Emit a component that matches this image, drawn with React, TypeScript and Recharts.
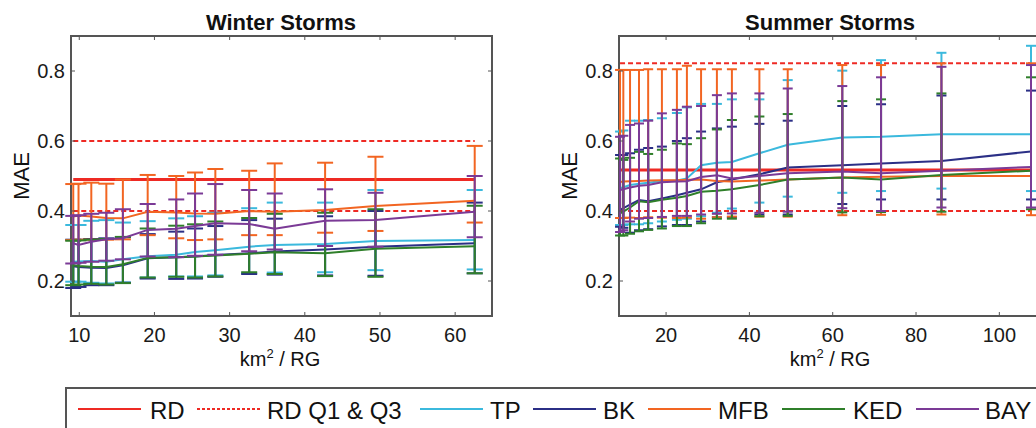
import React from 'react';
import { ComposedChart, Line, XAxis, YAxis, ErrorBar, ReferenceLine, ReferenceArea } from 'recharts';

const FONT = '"Liberation Sans", Arial, Helvetica, sans-serif';

// km2 per rain gauge
const winterX = [9.2, 9.9, 11.6, 13.6, 15.8, 19.1, 22.9, 25.4, 28.1, 32.6, 36.0, 42.7, 49.4, 62.6];
const summerX = [8.95, 9.74, 11.35, 13.5, 15.7, 19.0, 22.6, 25.0, 28.4, 32.2, 35.8, 42.4, 49.2, 62.3, 71.6, 86.1, 107.6];

// radar only (constant)
const winterRD = 0.49;
const winterRDQ1 = 0.4;
const winterRDQ3 = 0.6;
const summerRD = 0.517;
const summerRDQ1 = 0.4;
const summerRDQ3 = 0.822;

// winter storms: median, Q1, Q3
const winterTP = [0.255, 0.256, 0.257, 0.255, 0.262, 0.271, 0.275, 0.283, 0.288, 0.298, 0.303, 0.306, 0.314, 0.317];
const winterTPLow = [0.198, 0.198, 0.195, 0.193, 0.196, 0.21, 0.213, 0.213, 0.216, 0.222, 0.224, 0.225, 0.231, 0.233];
const winterTPHigh = [0.36, 0.36, 0.372, 0.374, 0.367, 0.371, 0.379, 0.385, 0.395, 0.408, 0.424, 0.424, 0.46, 0.46];

const winterBK = [0.242, 0.24, 0.238, 0.237, 0.245, 0.265, 0.268, 0.27, 0.274, 0.279, 0.284, 0.29, 0.298, 0.308];
const winterBKLow = [0.18, 0.183, 0.188, 0.188, 0.195, 0.207, 0.206, 0.207, 0.212, 0.22, 0.218, 0.216, 0.215, 0.222];
const winterBKHigh = [0.318, 0.318, 0.32, 0.322, 0.325, 0.334, 0.341, 0.35, 0.357, 0.374, 0.378, 0.385, 0.4, 0.424];

const winterMFB = [0.384, 0.387, 0.384, 0.38, 0.379, 0.398, 0.396, 0.393, 0.392, 0.4, 0.398, 0.403, 0.414, 0.429];
const winterMFBLow = [0.317, 0.318, 0.318, 0.318, 0.319, 0.331, 0.322, 0.317, 0.319, 0.331, 0.331, 0.338, 0.343, 0.367];
const winterMFBHigh = [0.477, 0.478, 0.481, 0.478, 0.49, 0.503, 0.5, 0.51, 0.52, 0.515, 0.536, 0.538, 0.555, 0.586];

const winterKED = [0.245, 0.243, 0.241, 0.24, 0.248, 0.266, 0.268, 0.27, 0.273, 0.278, 0.282, 0.279, 0.292, 0.299];
const winterKEDLow = [0.188, 0.19, 0.192, 0.19, 0.194, 0.21, 0.212, 0.21, 0.213, 0.225, 0.22, 0.214, 0.212, 0.222];
const winterKEDHigh = [0.315, 0.316, 0.318, 0.32, 0.326, 0.35, 0.358, 0.362, 0.37, 0.38, 0.392, 0.395, 0.405, 0.415];

const winterBAY = [0.308, 0.303, 0.312, 0.319, 0.322, 0.346, 0.349, 0.357, 0.365, 0.363, 0.349, 0.372, 0.374, 0.398];
const winterBAYLow = [0.25, 0.252, 0.255, 0.258, 0.262, 0.27, 0.268, 0.272, 0.275, 0.285, 0.29, 0.3, 0.298, 0.325];
const winterBAYHigh = [0.386, 0.388, 0.392, 0.395, 0.405, 0.42, 0.433, 0.45, 0.477, 0.46, 0.45, 0.462, 0.452, 0.5];

// summer storms: median, Q1, Q3
const summerTP = [0.465, 0.468, 0.474, 0.478, 0.481, 0.486, 0.487, 0.493, 0.531, 0.538, 0.54, 0.565, 0.589, 0.61, 0.612, 0.619, 0.619];
const summerTPLow = [0.36, 0.36, 0.362, 0.362, 0.365, 0.37, 0.375, 0.378, 0.385, 0.395, 0.407, 0.424, 0.441, 0.452, 0.457, 0.464, 0.457];
const summerTPHigh = [0.627, 0.63, 0.658, 0.658, 0.66, 0.665, 0.68, 0.696, 0.706, 0.706, 0.719, 0.719, 0.774, 0.801, 0.831, 0.852, 0.872];

const summerBK = [0.403, 0.408, 0.418, 0.431, 0.428, 0.436, 0.445, 0.452, 0.462, 0.482, 0.49, 0.505, 0.524, 0.531, 0.536, 0.543, 0.57];
const summerBKLow = [0.355, 0.352, 0.338, 0.345, 0.348, 0.356, 0.36, 0.36, 0.37, 0.382, 0.382, 0.39, 0.39, 0.42, 0.433, 0.433, 0.433];
const summerBKHigh = [0.56, 0.56, 0.565, 0.575, 0.58, 0.584, 0.6, 0.608, 0.627, 0.636, 0.641, 0.649, 0.658, 0.7, 0.705, 0.73, 0.744];

const summerMFB = [0.483, 0.484, 0.485, 0.486, 0.487, 0.488, 0.488, 0.489, 0.49, 0.486, 0.484, 0.487, 0.49, 0.496, 0.498, 0.5, 0.5];
const summerMFBLow = [0.38, 0.38, 0.381, 0.38, 0.382, 0.381, 0.38, 0.381, 0.378, 0.382, 0.384, 0.384, 0.384, 0.388, 0.389, 0.39, 0.388];
const summerMFBHigh = [0.803, 0.803, 0.803, 0.803, 0.805, 0.805, 0.805, 0.815, 0.805, 0.805, 0.805, 0.805, 0.805, 0.817, 0.817, 0.822, 0.822];

const summerKED = [0.393, 0.398, 0.41, 0.428, 0.425, 0.432, 0.438, 0.443, 0.455, 0.458, 0.462, 0.474, 0.49, 0.496, 0.49, 0.503, 0.515];
const summerKEDLow = [0.33, 0.33, 0.335, 0.342, 0.346, 0.35, 0.357, 0.357, 0.365, 0.378, 0.378, 0.385, 0.386, 0.396, 0.397, 0.398, 0.405];
const summerKEDHigh = [0.55, 0.546, 0.552, 0.569, 0.563, 0.575, 0.593, 0.591, 0.608, 0.633, 0.66, 0.67, 0.677, 0.714, 0.719, 0.736, 0.782];

const summerBAY = [0.46, 0.462, 0.467, 0.472, 0.474, 0.482, 0.484, 0.485, 0.497, 0.502, 0.493, 0.5, 0.508, 0.513, 0.508, 0.515, 0.526];
const summerBAYLow = [0.34, 0.345, 0.37, 0.378, 0.38, 0.383, 0.386, 0.386, 0.39, 0.392, 0.393, 0.395, 0.398, 0.408, 0.4, 0.41, 0.41];
const summerBAYHigh = [0.612, 0.615, 0.646, 0.65, 0.658, 0.679, 0.689, 0.698, 0.7, 0.731, 0.736, 0.736, 0.75, 0.757, 0.782, 0.812, 0.817];

const yTicks = [0.2, 0.4, 0.6, 0.8];
const winterTicks = [10, 20, 30, 40, 50, 60];
const summerTicks = [20, 40, 60, 80, 100];

const METHODS = [
  { key: 'tp', name: 'TP', color: '#3bb9dd' },
  { key: 'bk', name: 'BK', color: '#2b2f86' },
  { key: 'mfb', name: 'MFB', color: '#f26522' },
  { key: 'ked', name: 'KED', color: '#2f7f2a' },
  { key: 'bay', name: 'BAY', color: '#7b3a96' },
];
const RED = '#ee2a24';
const AXIS = '#555';

type Series = { [k: string]: [number[], number[], number[]] };

function buildRows(xs: number[], rd: number, q1: number, q3: number, series: Series) {
  return xs.map((x, i) => {
    const row: any = { x, rd, rdQ1: q1, rdQ3: q3 };
    Object.keys(series).forEach((k) => {
      const [med, lo, hi] = series[k];
      row[k] = med[i];
      row[k + 'Err'] = [med[i] - lo[i], hi[i] - med[i]];
    });
    return row;
  });
}

const winterRows = buildRows(winterX, winterRD, winterRDQ1, winterRDQ3, {
  tp: [winterTP, winterTPLow, winterTPHigh],
  bk: [winterBK, winterBKLow, winterBKHigh],
  mfb: [winterMFB, winterMFBLow, winterMFBHigh],
  ked: [winterKED, winterKEDLow, winterKEDHigh],
  bay: [winterBAY, winterBAYLow, winterBAYHigh],
});

const summerRows = buildRows(summerX, summerRD, summerRDQ1, summerRDQ3, {
  tp: [summerTP, summerTPLow, summerTPHigh],
  bk: [summerBK, summerBKLow, summerBKHigh],
  mfb: [summerMFB, summerMFBLow, summerMFBHigh],
  ked: [summerKED, summerKEDLow, summerKEDHigh],
  bay: [summerBAY, summerBAYLow, summerBAYHigh],
});

type PanelProps = {
  rows: any[];
  domain: [number, number];
  xTicks: number[];
  cap: number;
  right: number;
};

function Panel({ rows, domain, xTicks, cap, right }: PanelProps) {
  const [x0, x1] = domain;
  const plotW = 510 - 71 - right;
  const dx = ((x1 - x0) * 4) / plotW; // 4px inward ticks
  const dy = (0.8 * 4) / 280;
  const tickStyle = { fill: '#1a1a1a', fontSize: 20, fontFamily: FONT };

  return (
    <ComposedChart width={510} height={370} data={rows} margin={{ top: 36, right, left: 0, bottom: 0 }}>
      <XAxis
        type="number"
        dataKey="x"
        domain={domain}
        ticks={xTicks}
        allowDataOverflow
        axisLine={false}
        tickLine={false}
        tickSize={10}
        tickMargin={2}
        height={54}
        tick={tickStyle}
      />
      <YAxis
        type="number"
        domain={[0.1, 0.9]}
        ticks={yTicks}
        allowDataOverflow
        axisLine={false}
        tickLine={false}
        tickSize={4}
        tickMargin={2}
        width={71}
        tick={tickStyle}
        tickFormatter={(v: number) => v.toFixed(1)}
      />

      <Line dataKey="rdQ1" stroke={RED} strokeWidth={2} strokeDasharray="5 3" dot={false} activeDot={false} isAnimationActive={false} />
      <Line dataKey="rdQ3" stroke={RED} strokeWidth={2} strokeDasharray="5 3" dot={false} activeDot={false} isAnimationActive={false} />
      <Line dataKey="rd" stroke={RED} strokeWidth={3} dot={false} activeDot={false} isAnimationActive={false} />

      {METHODS.map((m) => (
        <Line
          key={m.key}
          dataKey={m.key}
          stroke={m.color}
          strokeWidth={2}
          dot={false}
          activeDot={false}
          isAnimationActive={false}
        >
          <ErrorBar dataKey={m.key + 'Err'} direction="y" width={cap} stroke={m.color} strokeWidth={2} isAnimationActive={false} />
        </Line>
      ))}

      {xTicks.map((t) => (
        <ReferenceLine key={'b' + t} segment={[{ x: t, y: 0.1 }, { x: t, y: 0.1 + dy }]} stroke={AXIS} strokeWidth={1} />
      ))}
      {xTicks.map((t) => (
        <ReferenceLine key={'t' + t} segment={[{ x: t, y: 0.9 }, { x: t, y: 0.9 - dy }]} stroke={AXIS} strokeWidth={1} />
      ))}
      {yTicks.map((t) => (
        <ReferenceLine key={'l' + t} segment={[{ x: x0, y: t }, { x: x0 + dx, y: t }]} stroke={AXIS} strokeWidth={1} />
      ))}
      {yTicks.map((t) => (
        <ReferenceLine key={'r' + t} segment={[{ x: x1 - dx, y: t }, { x: x1, y: t }]} stroke={AXIS} strokeWidth={1} />
      ))}
      <ReferenceArea x1={x0} x2={x1} y1={0.1} y2={0.9} fill="none" stroke={AXIS} strokeWidth={2} />
    </ComposedChart>
  );
}

const legendItems = [
  { name: 'RD', color: RED, dash: undefined as string | undefined, lx: 78, tx: 150 },
  { name: 'RD Q1 & Q3', color: RED, dash: '3 2', lx: 197, tx: 267 },
  { name: 'TP', color: METHODS[0].color, dash: undefined, lx: 420, tx: 490 },
  { name: 'BK', color: METHODS[1].color, dash: undefined, lx: 533, tx: 603 },
  { name: 'MFB', color: METHODS[2].color, dash: undefined, lx: 648, tx: 718 },
  { name: 'KED', color: METHODS[3].color, dash: undefined, lx: 782, tx: 853 },
  { name: 'BAY', color: METHODS[4].color, dash: undefined, lx: 916, tx: 985 },
];

export default function App() {
  return (
    <div
      style={{
        position: 'fixed',
        left: 0,
        top: 0,
        width: 1036,
        height: 428,
        overflow: 'hidden',
        background: '#fff',
        fontFamily: FONT,
      }}
    >
      <div style={{ position: 'absolute', left: 0, top: 0 }}>
        <Panel rows={winterRows} domain={[8.9, 64.9]} xTicks={winterTicks} cap={8} right={18} />
      </div>
      <div style={{ position: 'absolute', left: 548, top: 0 }}>
        <Panel rows={summerRows} domain={[8.7, 110]} xTicks={summerTicks} cap={5} right={17} />
      </div>

      <svg width={1036} height={428} style={{ position: 'absolute', left: 0, top: 0, pointerEvents: 'none' }}>
        <g fontFamily={FONT} fill="#111">
          <text x={281} y={30} textAnchor="middle" fontSize={22} fontWeight="bold">Winter Storms</text>
          <text x={830} y={30} textAnchor="middle" fontSize={22} fontWeight="bold">Summer Storms</text>

          <text x={0} y={0} transform="translate(29,176) rotate(-90)" textAnchor="middle" fontSize={22}>MAE</text>
          <text x={0} y={0} transform="translate(577,176) rotate(-90)" textAnchor="middle" fontSize={22}>MAE</text>

          <text x={280} y={366} textAnchor="middle" fontSize={20}>
            km<tspan fontSize={13} dy={-8}>2</tspan><tspan dy={8}> / RG</tspan>
          </text>
          <text x={830} y={366} textAnchor="middle" fontSize={20}>
            km<tspan fontSize={13} dy={-8}>2</tspan><tspan dy={8}> / RG</tspan>
          </text>
        </g>

        <rect x={66} y={388} width={1000} height={60} fill="none" stroke={AXIS} strokeWidth={2} />
        {legendItems.map((it) => (
          <g key={it.name}>
            <line x1={it.lx} x2={it.lx + 63} y1={409} y2={409} stroke={it.color} strokeWidth={2} strokeDasharray={it.dash} />
            <text x={it.tx} y={419} fontSize={24} fontFamily={FONT} fill="#111">{it.name}</text>
          </g>
        ))}
      </svg>
    </div>
  );
}
